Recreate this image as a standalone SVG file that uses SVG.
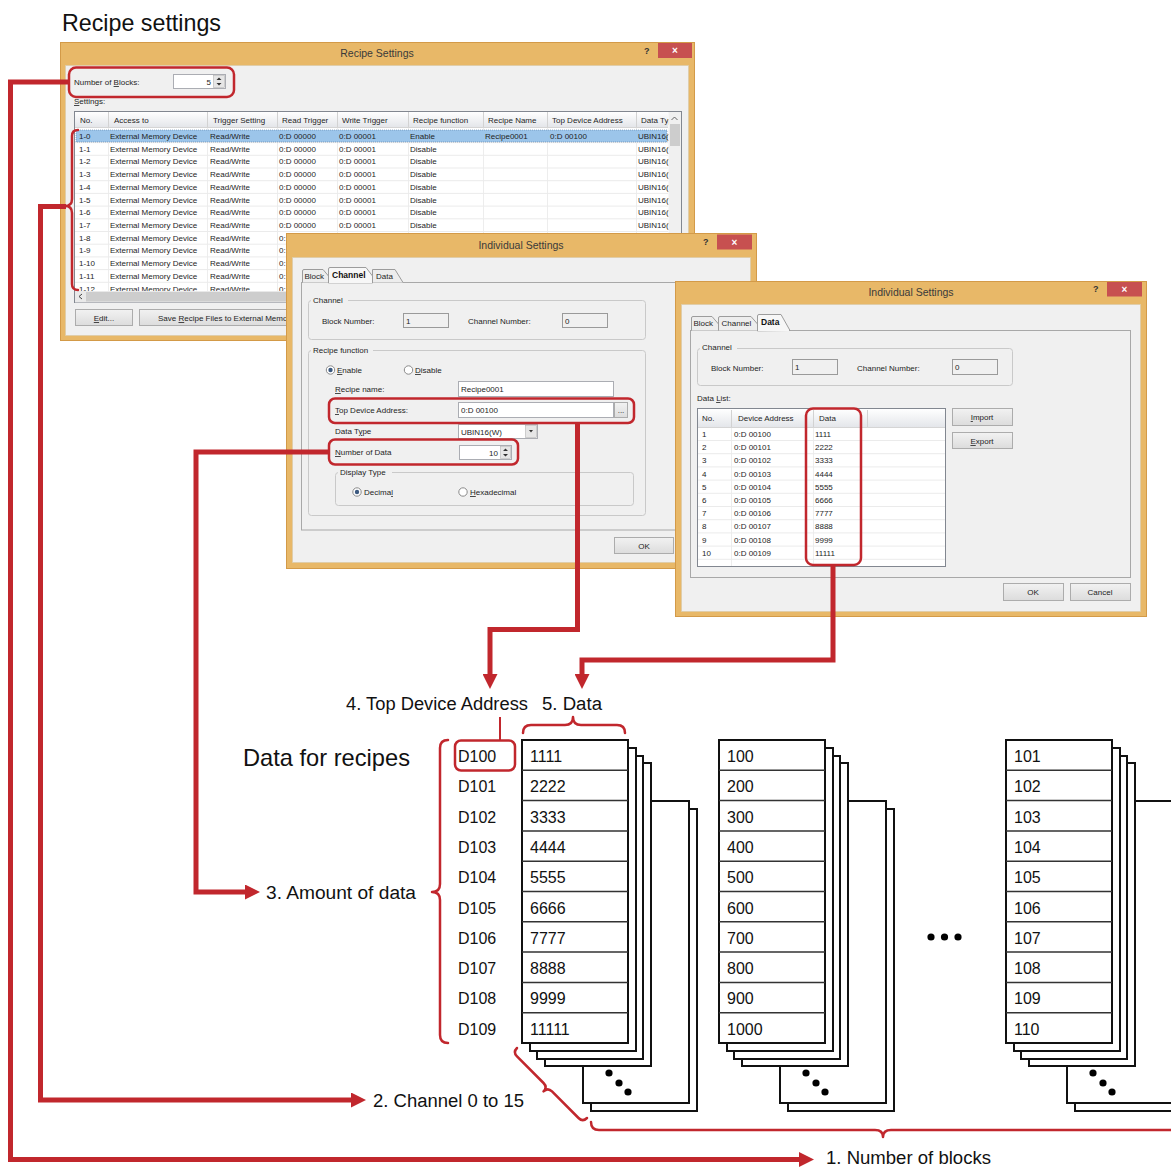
<svg xmlns="http://www.w3.org/2000/svg" width="1171" height="1167" viewBox="0 0 1171 1167">
<defs>
<linearGradient id="hdr" x1="0" y1="0" x2="0" y2="1"><stop offset="0" stop-color="#FFFFFF"/><stop offset="1" stop-color="#E4E6EA"/></linearGradient>
<linearGradient id="btng" x1="0" y1="0" x2="0" y2="1"><stop offset="0" stop-color="#F2F2F2"/><stop offset="1" stop-color="#DCDCDC"/></linearGradient>
<marker id="ah" viewBox="0 0 15 15" refX="0" refY="7.5" markerWidth="15" markerHeight="15" markerUnits="userSpaceOnUse" orient="auto"><path d="M0,0 L15,7.5 L0,15 z" fill="#C1272D"/></marker>
<g id="stack">
<rect class="card" x="69" y="69" width="106" height="302"/>
<rect class="card" x="61" y="61" width="106" height="302"/>
<circle cx="87" cy="333" r="3.6" fill="#000"/><circle cx="97" cy="343" r="3.6" fill="#000"/><circle cx="106" cy="352" r="3.6" fill="#000"/>
<rect class="card" x="23" y="23" width="106" height="303"/>
<rect class="card" x="15" y="16" width="106" height="303"/>
<rect class="card" x="8" y="8" width="106" height="303"/>
<rect class="card" x="0" y="0" width="106" height="303"/>
<path class="rowline" d="M0,30.3H106M0,60.6H106M0,90.9H106M0,121.2H106M0,151.5H106M0,181.8H106M0,212.1H106M0,242.4H106M0,272.7H106"/>
</g>
</defs>
<style>
.win{fill:#E8B868;stroke:#D39A48;stroke-width:1}
.cli{fill:#F0F0F0;stroke:#DCCBA8;stroke-width:0.8}
.ttl{font-family:"Liberation Sans",Arial,sans-serif;font-size:10.5px;fill:#3A3A3A;text-anchor:middle}
.ui{font-family:"Liberation Sans",Arial,sans-serif;font-size:8px;fill:#1E1E1E}
.uib{font-family:"Liberation Sans",Arial,sans-serif;font-size:8.5px;fill:#111;font-weight:bold}
.q{font-family:"Liberation Sans",Arial,sans-serif;font-size:9px;fill:#333;font-weight:bold}
.cls{fill:#C75050}
.xx{font-family:"Liberation Sans",Arial,sans-serif;font-size:10px;fill:#fff;text-anchor:middle;font-weight:bold}
.grp{fill:none;stroke:#C9C9C9;stroke-width:1}
.tb{fill:#fff;stroke:#ABADB3;stroke-width:1}
.tbd{fill:#F0F0F0;stroke:#9A9A9A;stroke-width:1}
.btn{fill:url(#btng);stroke:#ACACAC;stroke-width:1}
.tab{fill:#EDEDED;stroke:#9C9C9C;stroke-width:1}
.tabs{fill:#F7F7F7;stroke:#9C9C9C;stroke-width:1}
.pnl{fill:#F0F0F0;stroke:#A8A8A8;stroke-width:1}
.hl{fill:none;stroke:#C1272D;stroke-width:2.5}
.rl{stroke:#EBEBEB;stroke-width:1}
.vl{stroke:#EDEDED;stroke-width:1}
.hsep{stroke:#D2D2D2;stroke-width:1}
.conn{fill:none;stroke:#C1272D;stroke-width:5;stroke-linejoin:miter}
.thin{fill:none;stroke:#C1272D;stroke-width:2}
.br{fill:none;stroke:#C1272D;stroke-width:2.5;stroke-linecap:round;stroke-linejoin:round}
.lbl{font-family:"Liberation Sans",Arial,sans-serif;font-size:18px;fill:#111}
.big{font-family:"Liberation Sans",Arial,sans-serif;font-size:24px;fill:#111}
.cell{font-family:"Liberation Sans",Arial,sans-serif;font-size:16px;fill:#111}
.card{fill:#fff;stroke:#111;stroke-width:2}
.rowline{stroke:#333;stroke-width:1.5}
.rad{fill:#fff;stroke:#8A8A8A;stroke-width:1}
</style>
<rect x="0" y="0" width="1171" height="1167" fill="#fff"/>

<text class="big" x="62" y="31" textLength="159" lengthAdjust="spacingAndGlyphs">Recipe settings</text>

<!-- Window 1: Recipe Settings -->
<g id="win-recipe-settings">
<rect class="win" x="60.5" y="42.5" width="634" height="298"/>
<rect class="cli" x="65.5" y="65.5" width="623" height="270"/>
<text class="ttl" x="377" y="57">Recipe Settings</text>
<text class="q" x="644" y="54">?</text>
<rect class="cls" x="658" y="43" width="34" height="15"/>
<text class="xx" x="675" y="54">×</text>
<text class="ui" x="74" y="85">Number of <tspan text-decoration="underline">B</tspan>locks:</text>
<rect class="tb" x="173.5" y="74.5" width="52" height="14"/>
<text class="ui" x="211" y="85" text-anchor="end">5</text>
<rect x="213.5" y="75.5" width="11" height="12" fill="#E6E6E6" stroke="#B5B5B5" stroke-width="0.6"/>
<path d="M216.5,80 L219,77.5 L221.5,80 z M216.5,83 L219,85.5 L221.5,83 z" fill="#333"/>
<text class="ui" x="74" y="104"><tspan text-decoration="underline">S</tspan>ettings:</text>
<rect x="74.5" y="111.5" width="607" height="191" fill="#fff" stroke="#828790"/>
<rect x="75" y="112" width="593" height="15" fill="url(#hdr)"/>
<line x1="75" y1="127.5" x2="668" y2="127.5" stroke="#D5D5D5"/>
<path class="hsep" d="M108.5,112V127M207.5,112V127M277.5,112V127M337.5,112V127M408.5,112V127M483.5,112V127M547.5,112V127M636.5,112V127"/>
<path class="vl" d="M108.5,128V291M207.5,128V291M277.5,128V291M337.5,128V291M408.5,128V291M483.5,128V291M547.5,128V291M636.5,128V291"/>
<path class="rl" d="M75,142.6H668M75,155.3H668M75,168H668M75,180.7H668M75,193.4H668M75,206.1H668M75,218.8H668M75,231.5H668M75,244.2H668M75,256.9H668M75,269.6H668M75,282.3H668"/>
<g class="ui">
<text x="80" y="123">No.</text><text x="114" y="123">Access to</text><text x="213" y="123">Trigger Setting</text><text x="282" y="123">Read Trigger</text><text x="342" y="123">Write Trigger</text><text x="413" y="123">Recipe function</text><text x="488" y="123">Recipe Name</text><text x="552" y="123">Top Device Address</text><text x="641" y="123">Data Type</text>
</g>
<rect x="76" y="130" width="591" height="12" fill="#9CC5EA" stroke="#5A7FA8" stroke-width="0.6" stroke-dasharray="1,1"/>
<g class="ui">
<text x="79" y="139">1-0</text><text x="110" y="139">External Memory Device</text><text x="210" y="139">Read/Write</text><text x="279" y="139">0:D 00000</text><text x="339" y="139">0:D 00001</text><text x="410" y="139">Enable</text><text x="485" y="139">Recipe0001</text><text x="550" y="139">0:D 00100</text><text x="638" y="139">UBIN16(W)</text>
<text x="79" y="151.7">1-1</text><text x="110" y="151.7">External Memory Device</text><text x="210" y="151.7">Read/Write</text><text x="279" y="151.7">0:D 00000</text><text x="339" y="151.7">0:D 00001</text><text x="410" y="151.7">Disable</text><text x="638" y="151.7">UBIN16(W)</text>
<text x="79" y="164.4">1-2</text><text x="110" y="164.4">External Memory Device</text><text x="210" y="164.4">Read/Write</text><text x="279" y="164.4">0:D 00000</text><text x="339" y="164.4">0:D 00001</text><text x="410" y="164.4">Disable</text><text x="638" y="164.4">UBIN16(W)</text>
<text x="79" y="177.1">1-3</text><text x="110" y="177.1">External Memory Device</text><text x="210" y="177.1">Read/Write</text><text x="279" y="177.1">0:D 00000</text><text x="339" y="177.1">0:D 00001</text><text x="410" y="177.1">Disable</text><text x="638" y="177.1">UBIN16(W)</text>
<text x="79" y="189.8">1-4</text><text x="110" y="189.8">External Memory Device</text><text x="210" y="189.8">Read/Write</text><text x="279" y="189.8">0:D 00000</text><text x="339" y="189.8">0:D 00001</text><text x="410" y="189.8">Disable</text><text x="638" y="189.8">UBIN16(W)</text>
<text x="79" y="202.5">1-5</text><text x="110" y="202.5">External Memory Device</text><text x="210" y="202.5">Read/Write</text><text x="279" y="202.5">0:D 00000</text><text x="339" y="202.5">0:D 00001</text><text x="410" y="202.5">Disable</text><text x="638" y="202.5">UBIN16(W)</text>
<text x="79" y="215.2">1-6</text><text x="110" y="215.2">External Memory Device</text><text x="210" y="215.2">Read/Write</text><text x="279" y="215.2">0:D 00000</text><text x="339" y="215.2">0:D 00001</text><text x="410" y="215.2">Disable</text><text x="638" y="215.2">UBIN16(W)</text>
<text x="79" y="227.9">1-7</text><text x="110" y="227.9">External Memory Device</text><text x="210" y="227.9">Read/Write</text><text x="279" y="227.9">0:D 00000</text><text x="339" y="227.9">0:D 00001</text><text x="410" y="227.9">Disable</text><text x="638" y="227.9">UBIN16(W)</text>
<text x="79" y="240.6">1-8</text><text x="110" y="240.6">External Memory Device</text><text x="210" y="240.6">Read/Write</text><text x="279" y="240.6">0:</text>
<text x="79" y="253.3">1-9</text><text x="110" y="253.3">External Memory Device</text><text x="210" y="253.3">Read/Write</text><text x="279" y="253.3">0:</text>
<text x="79" y="266">1-10</text><text x="110" y="266">External Memory Device</text><text x="210" y="266">Read/Write</text><text x="279" y="266">0:</text>
<text x="79" y="278.7">1-11</text><text x="110" y="278.7">External Memory Device</text><text x="210" y="278.7">Read/Write</text><text x="279" y="278.7">0:</text>
<text x="79" y="291.6">1-12</text><text x="110" y="291.6">External Memory Device</text><text x="210" y="291.6">Read/Write</text><text x="279" y="291.6">0:</text>
</g>
<rect x="668.5" y="112" width="12.5" height="190" fill="#F0F0F0"/>
<rect x="670" y="124" width="10" height="22" fill="#CDCDCD"/>
<path d="M671.5,120 L674.5,117 L677.5,120" fill="none" stroke="#555" stroke-width="0.9"/>
<rect x="75" y="291" width="593" height="11.5" fill="#E9E9E9"/>
<rect x="86" y="292" width="400" height="9.5" fill="#CDCDCD"/>
<path d="M82,294 L79,296.5 L82,299" fill="none" stroke="#444" stroke-width="1"/>
<rect class="btn" x="75.5" y="309.5" width="57" height="16"/>
<text class="ui" x="104" y="321" text-anchor="middle"><tspan text-decoration="underline">E</tspan>dit...</text>
<rect class="btn" x="139.5" y="309.5" width="180" height="16"/>
<text class="ui" x="158" y="321">Save <tspan text-decoration="underline">R</tspan>ecipe Files to External Memo</text>
<rect class="hl" x="69" y="67.5" width="165" height="29.5" rx="7"/>
<path class="br" d="M78,130 Q72,130 72,136 V199 Q72,206 65,206 Q72,206 72,213 V284 Q72,290 78,290"/>
</g>

<!-- Window 2: Individual Settings (Channel tab) -->
<g id="win-individual-channel">
<rect class="win" x="286.5" y="233.5" width="470" height="335"/>
<rect class="cli" x="292.5" y="257.5" width="458" height="305"/>
<text class="ttl" x="521" y="249">Individual Settings</text>
<text class="q" x="703" y="245">?</text>
<rect class="cls" x="717" y="234.5" width="35" height="15"/>
<text class="xx" x="734.5" y="245.5">×</text>
<rect class="pnl" x="301.5" y="282.5" width="446" height="247.5"/>
<path class="tab" d="M302.5,282.5 V271 Q302.5,269.5 304,269.5 H323 L328.5,276 V282.5"/>
<path class="tab" d="M372.5,282.5 V269.5 H395 L403,282.5"/>
<path class="tabs" d="M328.5,283 V269 Q328.5,267.5 330,267.5 H366 L372.5,276 V283 z"/>
<line x1="329" y1="282.5" x2="372" y2="282.5" stroke="#F7F7F7" stroke-width="1.5"/>
<text class="ui" x="304.5" y="279" fill="#555" font-size="7.5">Block</text>
<text class="uib" x="332" y="278">Channel</text>
<text class="ui" x="376" y="279" fill="#555">Data</text>
<rect class="grp" x="308.5" y="300.5" width="337" height="39" rx="3"/>
<rect x="311" y="296" width="37" height="8" fill="#F0F0F0"/>
<text class="ui" x="313" y="303">Channel</text>
<text class="ui" x="322" y="324">Block Number:</text>
<rect class="tbd" x="403.5" y="313.5" width="45" height="14"/>
<text class="ui" x="406" y="324">1</text>
<text class="ui" x="468" y="324">Channel Number:</text>
<rect class="tbd" x="562.5" y="313.5" width="45" height="14"/>
<text class="ui" x="565" y="324">0</text>
<rect class="grp" x="308.5" y="350.5" width="337" height="165" rx="3"/>
<rect x="311" y="346" width="62" height="8" fill="#F0F0F0"/>
<text class="ui" x="313" y="353">Recipe function</text>
<circle class="rad" cx="330.5" cy="370" r="4.2"/><circle cx="330.5" cy="370" r="2.2" fill="#3C5A80"/>
<text class="ui" x="337" y="373"><tspan text-decoration="underline">E</tspan>nable</text>
<circle class="rad" cx="408.5" cy="370" r="4.2"/>
<text class="ui" x="415" y="373"><tspan text-decoration="underline">D</tspan>isable</text>
<text class="ui" x="335" y="392"><tspan text-decoration="underline">R</tspan>ecipe name:</text>
<rect class="tb" x="458.5" y="381.5" width="155" height="15"/>
<text class="ui" x="461" y="392">Recipe0001</text>
<text class="ui" x="335" y="413"><tspan text-decoration="underline">T</tspan>op Device Address:</text>
<rect class="tb" x="458.5" y="402.5" width="155" height="15"/>
<text class="ui" x="461" y="413">0:D 00100</text>
<rect class="btn" x="614.5" y="402.5" width="13" height="15"/>
<text class="ui" x="621" y="413" text-anchor="middle">...</text>
<text class="ui" x="335" y="434">Data T<tspan text-decoration="underline">y</tspan>pe</text>
<rect class="tb" x="458.5" y="424.5" width="79" height="14"/>
<text class="ui" x="461" y="435">UBIN16(W)</text>
<rect x="525.5" y="425.5" width="11" height="12" fill="#E6E6E6" stroke="#B5B5B5" stroke-width="0.6"/>
<path d="M529,430 L531,432.5 L533,430 z" fill="#333"/>
<text class="ui" x="335" y="455"><tspan text-decoration="underline">N</tspan>umber of Data</text>
<rect class="tb" x="459.5" y="445.5" width="52" height="14"/>
<text class="ui" x="498" y="456" text-anchor="end">10</text>
<rect x="500.5" y="446.5" width="10" height="12" fill="#E6E6E6" stroke="#B5B5B5" stroke-width="0.6"/>
<path d="M503,451 L505.5,448.5 L508,451 z M503,454 L505.5,456.5 L508,454 z" fill="#333"/>
<rect class="grp" x="335.5" y="472.5" width="298" height="33" rx="3"/>
<rect x="338" y="468" width="54" height="8" fill="#F0F0F0"/>
<text class="ui" x="340" y="475">Display Type</text>
<circle class="rad" cx="357" cy="492" r="4.2"/><circle cx="357" cy="492" r="2.2" fill="#3C5A80"/>
<text class="ui" x="364" y="495">Decima<tspan text-decoration="underline">l</tspan></text>
<circle class="rad" cx="463" cy="492" r="4.2"/>
<text class="ui" x="470" y="495"><tspan text-decoration="underline">H</tspan>exadecimal</text>
<rect class="btn" x="614.5" y="537.5" width="59" height="16"/>
<text class="ui" x="644" y="549" text-anchor="middle">OK</text>
<rect class="hl" x="329" y="398.5" width="305" height="24.5" rx="6"/>
<rect class="hl" x="329" y="439.5" width="189" height="25" rx="6"/>
</g>

<!-- Window 3: Individual Settings (Data tab) -->
<g id="win-individual-data">
<rect class="win" x="675.5" y="281.5" width="471" height="335"/>
<rect class="cli" x="681.5" y="304.5" width="459" height="307"/>
<text class="ttl" x="911" y="296">Individual Settings</text>
<text class="q" x="1093" y="292">?</text>
<rect class="cls" x="1107" y="282" width="35" height="14.5"/>
<text class="xx" x="1124.5" y="293">×</text>
<rect class="pnl" x="690.5" y="330.5" width="440" height="247"/>
<path class="tab" d="M691.5,330.5 V318 Q691.5,316.5 693,316.5 H712 L718.5,324 V330.5"/>
<path class="tab" d="M718.5,330.5 V318 Q718.5,316.5 720,316.5 H751 L757.5,324 V330.5"/>
<path class="tabs" d="M757.5,331 V316 Q757.5,314.5 759,314.5 H781 L790,330.5 z"/>
<line x1="758" y1="330.5" x2="789" y2="330.5" stroke="#F7F7F7" stroke-width="1.5"/>
<text class="ui" x="693.5" y="326" fill="#555" font-size="7.5">Block</text>
<text class="ui" x="721.5" y="326" fill="#555" font-size="7.5">Channel</text>
<text class="uib" x="761" y="325">Data</text>
<rect class="grp" x="697.5" y="348.5" width="315" height="37" rx="3"/>
<rect x="700" y="344" width="37" height="8" fill="#F0F0F0"/>
<text class="ui" x="702" y="350">Channel</text>
<text class="ui" x="711" y="371">Block Number:</text>
<rect class="tbd" x="792.5" y="359.5" width="45" height="15"/>
<text class="ui" x="795" y="370">1</text>
<text class="ui" x="857" y="371">Channel Number:</text>
<rect class="tbd" x="952.5" y="359.5" width="45" height="15"/>
<text class="ui" x="955" y="370">0</text>
<text class="ui" x="697" y="401">Data <tspan text-decoration="underline">L</tspan>ist:</text>
<rect x="697.5" y="408.5" width="248" height="158" fill="#fff" stroke="#828790"/>
<rect x="698" y="409" width="247" height="18" fill="url(#hdr)"/>
<line x1="698" y1="427.5" x2="945" y2="427.5" stroke="#D5D5D5"/>
<path class="hsep" d="M731.5,410V427M813.5,410V427M867.5,410V427"/>
<path class="vl" d="M731.5,428V566M813.5,428V566"/>
<path class="rl" d="M698,440.5H945M698,453.7H945M698,466.9H945M698,480.1H945M698,493.3H945M698,506.5H945M698,519.7H945M698,532.9H945M698,546.1H945M698,559.3H945"/>
<g class="ui">
<text x="702" y="421">No.</text><text x="738" y="421">Device Address</text><text x="819" y="421">Data</text>
<text x="702" y="437">1</text><text x="734" y="437">0:D 00100</text><text x="815" y="437">1111</text>
<text x="702" y="450.2">2</text><text x="734" y="450.2">0:D 00101</text><text x="815" y="450.2">2222</text>
<text x="702" y="463.4">3</text><text x="734" y="463.4">0:D 00102</text><text x="815" y="463.4">3333</text>
<text x="702" y="476.6">4</text><text x="734" y="476.6">0:D 00103</text><text x="815" y="476.6">4444</text>
<text x="702" y="489.8">5</text><text x="734" y="489.8">0:D 00104</text><text x="815" y="489.8">5555</text>
<text x="702" y="503">6</text><text x="734" y="503">0:D 00105</text><text x="815" y="503">6666</text>
<text x="702" y="516.2">7</text><text x="734" y="516.2">0:D 00106</text><text x="815" y="516.2">7777</text>
<text x="702" y="529.4">8</text><text x="734" y="529.4">0:D 00107</text><text x="815" y="529.4">8888</text>
<text x="702" y="542.6">9</text><text x="734" y="542.6">0:D 00108</text><text x="815" y="542.6">9999</text>
<text x="702" y="555.8">10</text><text x="734" y="555.8">0:D 00109</text><text x="815" y="555.8">11111</text>
</g>
<rect class="btn" x="952.5" y="408.5" width="60" height="17"/>
<text class="ui" x="982" y="420" text-anchor="middle"><tspan text-decoration="underline">I</tspan>mport</text>
<rect class="btn" x="952.5" y="432.5" width="60" height="16"/>
<text class="ui" x="982" y="444" text-anchor="middle"><tspan text-decoration="underline">E</tspan>xport</text>
<rect class="btn" x="1003.5" y="583.5" width="60" height="17"/>
<text class="ui" x="1033" y="595" text-anchor="middle">OK</text>
<rect class="btn" x="1070.5" y="583.5" width="60" height="17"/>
<text class="ui" x="1100" y="595" text-anchor="middle">Cancel</text>
<rect class="hl" x="806" y="408.5" width="55" height="156.5" rx="7"/>
</g>

<!-- Connectors -->
<g id="connectors">
<path class="conn" d="M69,82 H10.5 V1159.5 H799" marker-end="url(#ah)"/>
<path class="conn" d="M66,206.5 H40.5 V1100 H351" marker-end="url(#ah)"/>
<path class="conn" d="M329,452 H196 V892 H245" marker-end="url(#ah)"/>
<path class="conn" d="M577.5,423 V629.5 H490 V674" marker-end="url(#ah)"/>
<path class="conn" d="M833,565 V660 H582 V674" marker-end="url(#ah)"/>
<path class="thin" d="M500,717 V740"/>
</g>

<!-- Labels -->
<g id="labels">
<text class="lbl" x="346" y="710" textLength="182" lengthAdjust="spacingAndGlyphs">4. Top Device Address</text>
<text class="lbl" x="542" y="710" textLength="60" lengthAdjust="spacingAndGlyphs">5. Data</text>
<text class="big" x="243" y="766" textLength="167" lengthAdjust="spacingAndGlyphs">Data for recipes</text>
<text class="lbl" x="266" y="899" textLength="150" lengthAdjust="spacingAndGlyphs">3. Amount of data</text>
<text class="lbl" x="373" y="1107" textLength="151" lengthAdjust="spacingAndGlyphs">2. Channel 0 to 15</text>
<text class="lbl" x="826" y="1164" textLength="165" lengthAdjust="spacingAndGlyphs">1. Number of blocks</text>
</g>

<!-- Braces -->
<g id="braces">
<path class="br" d="M523,733 Q523,725 531,725 H565 Q573,725 573,717 Q573,725 581,725 H617 Q625,725 625,733"/>
<path class="br" d="M448,740 Q440,740 440,748 V884 Q440,892 432,892 Q440,892 440,900 V1035 Q440,1043 448,1043"/>
<path class="br" d="M0,0 Q0,6 6,6 H43.5 Q49.5,6 49.5,12 Q49.5,6 55.5,6 H93 Q99,6 99,0" transform="translate(517,1048) rotate(45)"/>
<path class="br" d="M591,1122 Q591,1130 599,1130 H875 Q883,1130 883,1137 Q883,1130 891,1130 H1175"/>
</g>

<!-- Device column -->
<g id="device-addresses" class="cell">
<rect class="hl" x="455" y="740.5" width="60" height="30" rx="6"/>
<text x="458" y="762">D100</text><text x="458" y="792.3">D101</text><text x="458" y="822.6">D102</text><text x="458" y="852.9">D103</text><text x="458" y="883.2">D104</text><text x="458" y="913.5">D105</text><text x="458" y="943.8">D106</text><text x="458" y="974.1">D107</text><text x="458" y="1004.4">D108</text><text x="458" y="1034.7">D109</text>
</g>

<g id="block-1">
<use href="#stack" x="522" y="740"/>
<g class="cell"><text x="530" y="762">1111</text><text x="530" y="792.3">2222</text><text x="530" y="822.6">3333</text><text x="530" y="852.9">4444</text><text x="530" y="883.2">5555</text><text x="530" y="913.5">6666</text><text x="530" y="943.8">7777</text><text x="530" y="974.1">8888</text><text x="530" y="1004.4">9999</text><text x="530" y="1034.7">11111</text></g>
</g>
<g id="block-2">
<use href="#stack" x="719" y="740"/>
<g class="cell"><text x="727" y="762">100</text><text x="727" y="792.3">200</text><text x="727" y="822.6">300</text><text x="727" y="852.9">400</text><text x="727" y="883.2">500</text><text x="727" y="913.5">600</text><text x="727" y="943.8">700</text><text x="727" y="974.1">800</text><text x="727" y="1004.4">900</text><text x="727" y="1034.7">1000</text></g>
</g>
<g id="ellipsis">
<circle cx="931" cy="937" r="3.6"/><circle cx="944.5" cy="937" r="3.6"/><circle cx="958" cy="937" r="3.6"/>
</g>
<g id="block-n">
<use href="#stack" x="1006" y="740"/>
<g class="cell"><text x="1014" y="762">101</text><text x="1014" y="792.3">102</text><text x="1014" y="822.6">103</text><text x="1014" y="852.9">104</text><text x="1014" y="883.2">105</text><text x="1014" y="913.5">106</text><text x="1014" y="943.8">107</text><text x="1014" y="974.1">108</text><text x="1014" y="1004.4">109</text><text x="1014" y="1034.7">110</text></g>
</g>
</svg>
